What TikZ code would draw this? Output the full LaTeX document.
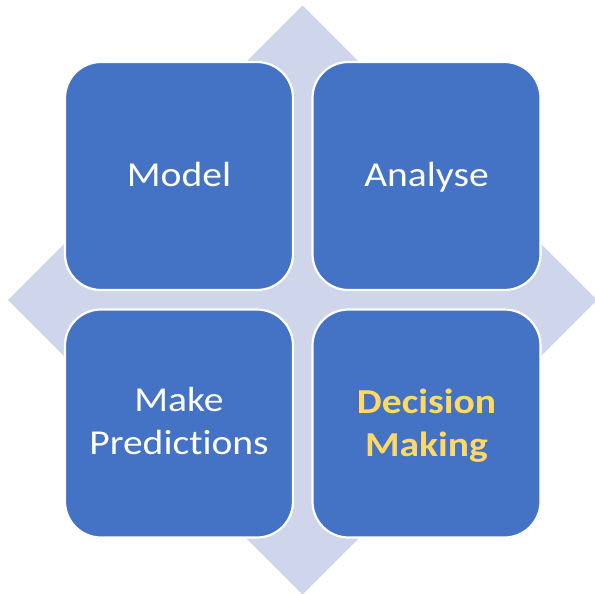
\documentclass[tikz,border=0pt]{standalone}
\usepackage{fontspec}
\setmainfont{Carlito}[FakeStretch=1.13, Ligatures=NoCommon]
\definecolor{boxblue}{HTML}{4472C4}
\definecolor{diamondfill}{HTML}{CFD5EA}
\definecolor{gold}{HTML}{FFD966}
\begin{document}
\begin{tikzpicture}[x=1pt,y=-1pt,
  quad/.style={draw=white, line width=2.2pt, fill=boxblue, rounded corners=36pt,
    minimum width=228pt, minimum height=228pt, inner sep=0pt},
  lbl/.style={anchor=base, inner sep=0pt, align=center, text=white,
    font=\fontsize{35}{43}\selectfont},
  hilite/.style={text=gold, font=\fontsize{35}{43}\selectfont\bfseries}]
\useasboundingbox (0,0) rectangle (595,594);
\begin{scope}
\clip (0,0) rectangle (595,594);
\fill[diamondfill] (302.5,5.5) -- (597,300) -- (302.5,594.5) -- (8,300) -- cycle;
\end{scope}
\node[quad] (model) at (179,176) {};
\node[quad] (analyse) at (426.5,176) {};
\node[quad] (predict) at (179,423.5) {};
\node[quad] (decide) at (426.5,423.5) {};
\node[lbl] (tmodel) at (179,186) {Model};
\node[lbl] (tanalyse) at (426.5,186) {Analyse};
\node[lbl] (tpredict) at (179,454) {Make\\Predictions};
\node[lbl, hilite] (tdecide) at (426.5,456) {Decision\\Making};
\end{tikzpicture}
\end{document}
